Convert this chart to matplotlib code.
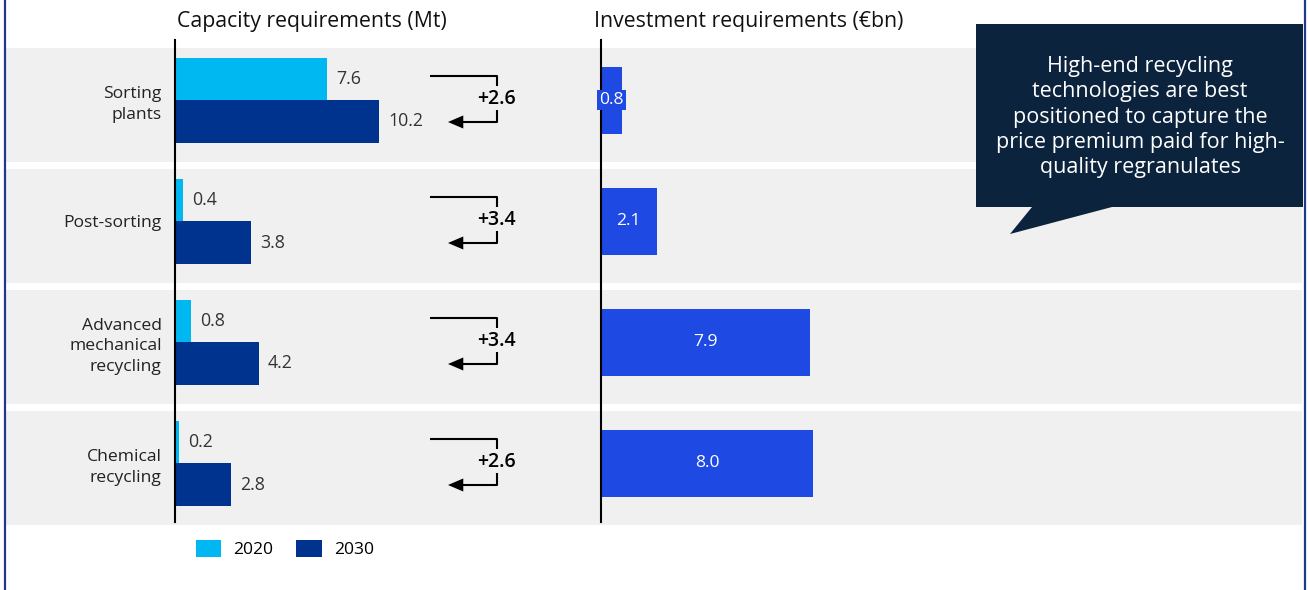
import numpy as np
import matplotlib
matplotlib.use("Agg")
import matplotlib.pyplot as plt
from matplotlib.patches import Polygon
from matplotlib.lines import Line2D

plt.rcParams['font.family'] = ['Open Sans', 'DejaVu Sans']

categories = ["Sorting\nplants", "Post-sorting", "Advanced\nmechanical\nrecycling", "Chemical\nrecycling"]
cap_2020 = [7.6, 0.4, 0.8, 0.2]
cap_2030 = [10.2, 3.8, 4.2, 2.8]
investment = [0.8, 2.1, 7.9, 8.0]
callout_text = ("High-end recycling\ntechnologies are best\npositioned to capture the\n"
                "price premium paid for high-\nquality regranulates")

C2020 = "#00b8f1"
C2030 = "#00338d"
CINV = "#1e49e2"
BAND = "#f0f0f0"
NAVY = "#0c233d"

W, H = 1308, 590
fig = plt.figure(figsize=(W / 100, H / 100), dpi=100)


def px_rect(x0, y0, x1, y1):
    return [x0 / W, 1 - y1 / H, (x1 - x0) / W, (y1 - y0) / H]


def fx(x):
    return x / W


def fy(y):
    return 1 - y / H


rows = np.arange(len(categories))
ROW_PX = 121.0  # pixels per row
ylim = (3 + 59 / ROW_PX, -60 / ROW_PX)

# background: row bands
bg = fig.add_axes([0, 0, 1, 1])
bg.set_xlim(0, W)
bg.set_ylim((H - 100) / ROW_PX, -100 / ROW_PX)
bg.axis("off")
for i in rows:
    bg.axhspan(i - 0.43, i + 0.515, xmin=5 / W, xmax=1302 / W, color=BAND, lw=0, zorder=0)

# outer frame lines
for x in [5, 1305]:
    fig.add_artist(Line2D([fx(x), fx(x)], [0, 1], color="#1c3a8c", lw=1.6, transform=fig.transFigure))

# left: capacity
ax1 = fig.add_axes(px_rect(175, 40, 515, 522))
ax1.set_facecolor("none")
ax1.set_xlim(0, 17)
ax1.set_ylim(*ylim)
h1 = 42 / ROW_PX
h2 = 43 / ROW_PX
b1 = ax1.barh(rows - h1, cap_2020, height=h1, align="edge", color=C2020, label="2020")
b2 = ax1.barh(rows, cap_2030, height=h2, align="edge", color=C2030, label="2030")
for i in rows:
    ax1.text(cap_2020[i] + 0.45, i - h1 / 2, f"{cap_2020[i]:.1f}", va="center", fontsize=12.8, color="#333333")
    ax1.text(cap_2030[i] + 0.45, i + h2 / 2, f"{cap_2030[i]:.1f}", va="center", fontsize=12.8, color="#333333")

    # change bracket
    delta = cap_2030[i] - cap_2020[i]
    xa, xb, xt = 12.75, 16.1, 13.75
    ax1.plot([xa, xb, xb], [i - 24 / ROW_PX, i - 24 / ROW_PX, i - 14 / ROW_PX],
             color="black", lw=1.5, clip_on=False, solid_capstyle="butt")
    ax1.plot([xb, xb, xt + 0.5], [i + 10 / ROW_PX, i + 22 / ROW_PX, i + 22 / ROW_PX],
             color="black", lw=1.5, clip_on=False, solid_capstyle="butt")
    ax1.annotate("", xy=(xt - 0.1, i + 22 / ROW_PX), xytext=(xt + 0.9, i + 22 / ROW_PX),
                 arrowprops=dict(arrowstyle="-|>,head_length=1.1,head_width=0.47", color="black", lw=0,
                                 shrinkA=0, shrinkB=0), annotation_clip=False)
    ax1.text(xb - 0.05, i - 1 / ROW_PX, f"+{delta:.1f}", ha="center", va="center", fontsize=14,
             fontweight="semibold", color="black")

ax1.set_yticks(rows)
ax1.set_yticklabels(categories, fontsize=12.6, color="#222222", linespacing=1.38)
ax1.tick_params(axis="y", length=0, pad=9.5)
ax1.set_xticks([])
for s in ["top", "right", "bottom"]:
    ax1.spines[s].set_visible(False)
ax1.spines["left"].set_linewidth(1.5)

# right: investment
ax2 = fig.add_axes(px_rect(601, 40, 1300, 522))
ax2.set_facecolor("none")
ax2.set_xlim(0, 699 / 26.5)
ax2.set_ylim(*ylim)
ax2.barh(rows, investment, height=67 / ROW_PX, color=CINV)
for i in rows:
    ax2.text(investment[i] / 2, i, f"{investment[i]:.1f}", ha="center", va="center", fontsize=12.6,
             color="white", bbox=dict(facecolor=CINV, edgecolor="none", pad=1.5))
ax2.set_xticks([])
ax2.set_yticks([])
for s in ["top", "right", "bottom"]:
    ax2.spines[s].set_visible(False)
ax2.spines["left"].set_linewidth(1.5)

# titles
fig.text(fx(177), fy(21), "Capacity requirements (Mt)", fontsize=15.3, va="center", color="#111111")
fig.text(fx(594), fy(21), "Investment requirements (€bn)", fontsize=15.3, va="center", color="#111111")

# callout
pts = [(976, 24), (1303, 24), (1303, 207), (1112, 207), (1010, 234), (1032, 207), (976, 207)]
fig.add_artist(Polygon([(fx(x), fy(y)) for x, y in pts], closed=True, facecolor=NAVY,
                       edgecolor="none", transform=fig.transFigure, zorder=5))
fig.text(fx(1140), fy(117), callout_text, ha="center", va="center", fontsize=15.5, color="white",
         linespacing=1.26, zorder=6)

# legend
fig.legend(handles=[b1, b2], loc="center left", bbox_to_anchor=(fx(196), fy(549)), ncol=2,
           frameon=False, fontsize=12.6, handlelength=1.45, handleheight=1.15, handletextpad=0.7,
           columnspacing=1.3, borderpad=0, borderaxespad=0)

fig.savefig("out.png", dpi=100)
